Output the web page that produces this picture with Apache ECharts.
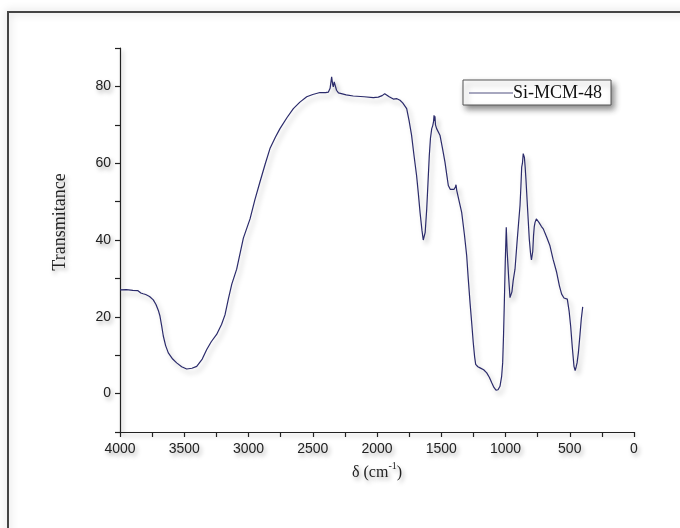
<!DOCTYPE html>
<html>
<head>
<meta charset="utf-8">
<script src="https://cdn.jsdelivr.net/npm/echarts@6/dist/echarts.min.js"></script>
<style>html,body{margin:0;padding:0;background:#fff;}#c{width:680px;height:528px;}</style>
</head>
<body>
<div id="c"></div>
<script>
// Wavenumber (cm^-1) and transmittance
const wavenumbers = [4000,3950,3900,3860,3850,3845,3838,3830,3820,3800,3770,3741,3720,3700,3689,3675,3663,3645,3624,3590,3559,3520,3481,3440,3403,3360,3325,3290,3248,3210,3183,3157,3130,3092,3040,2988,2950,2911,2870,2833,2790,2755,2700,2651,2600,2547,2500,2444,2400,2379,2365,2353,2345,2340,2333,2327,2315,2300,2288,2240,2185,2100,2029,1990,1960,1940,1925,1905,1890,1873,1860,1845,1821,1800,1769,1750,1731,1712,1692,1678,1665,1650,1640,1634,1625,1613,1603,1593,1584,1574,1566,1560,1556,1552,1549,1545,1536,1510,1490,1471,1455,1445,1430,1419,1400,1390,1385,1380,1375,1360,1341,1320,1302,1290,1276,1262,1251,1240,1232,1215,1198,1170,1146,1125,1107,1090,1074,1058,1043,1030,1022,1015,1009,1002,994,987,975,965,960,950,940,926,910,898,887,880,874,868,862,859,853,847,841,828,815,805,798,794,788,782,776,770,760,757,740,720,706,680,654,630,602,580,563,545,530,519,505,493,480,467,458,454,450,443,433,420,410,399];
const transmittance = [27.0,27.1,26.9,26.8,26.3,26.9,26.2,26.7,26.0,25.8,25.3,24.4,23.2,21.5,20.2,17.5,15.0,12.5,10.6,9.0,8.0,7.0,6.4,6.6,7.1,9.0,11.5,13.5,15.4,18.0,20.5,24.6,28.5,32.4,40.5,45.5,50.5,55.1,59.8,63.8,66.8,69.0,71.9,74.2,75.9,77.3,77.9,78.4,78.4,78.5,79.5,82.5,80.5,79.9,81.2,81.0,79.0,78.3,78.2,77.8,77.5,77.3,77.1,77.2,77.6,78.1,78.0,77.3,76.9,76.7,77.0,76.8,76.4,75.7,74.2,71.0,67.3,62.0,56.8,52.0,47.2,42.5,40.0,39.6,42.0,48.1,55.0,62.0,66.5,69.0,69.8,70.8,72.5,71.0,72.2,70.0,69.0,67.3,63.8,60.3,56.5,54.2,53.2,52.9,53.2,53.8,54.4,53.0,52.9,50.0,47.2,41.5,35.9,30.0,23.7,18.0,13.3,9.5,7.6,7.0,6.7,6.2,5.4,4.2,2.8,1.6,0.9,1.0,1.9,4.5,8.0,15.5,23.7,34.0,43.3,37.0,30.0,25.0,24.8,26.5,29.5,32.4,39.5,44.5,49.0,54.0,59.0,60.0,62.5,62.7,61.5,59.0,55.9,48.0,40.3,36.5,34.8,34.6,37.0,41.0,43.5,44.6,45.5,45.3,44.6,43.5,42.9,40.8,38.5,35.0,31.6,28.0,25.9,24.9,24.6,24.6,21.5,17.6,12.0,7.1,6.0,6.4,7.0,8.0,10.6,15.5,19.5,22.6];
const seriesName = 'Si-MCM-48';
const xTitle = '{a|δ (cm}{s|-1}{a|)}';
const yTitle = 'Transmitance';

const chart = echarts.init(document.getElementById('c'), null, {renderer: 'canvas'});
const data = wavenumbers.map((w, i) => [w, transmittance[i]]);
const shadowText = {textShadowColor: 'rgba(0,0,0,0.35)', textShadowBlur: 4, textShadowOffsetX: 2, textShadowOffsetY: 3};
const axisLineStyle = {color: '#222', width: 1.2, shadowColor: 'rgba(0,0,0,0.3)', shadowBlur: 4, shadowOffsetX: 2, shadowOffsetY: 3};

chart.setOption({
  backgroundColor: '#fff',
  animation: false,
  graphic: [{
    type: 'rect',
    shape: {x: 8, y: 12, width: 720, height: 580},
    style: {fill: 'none', stroke: '#444', lineWidth: 2, shadowColor: 'rgba(0,0,0,0.25)', shadowBlur: 8},
    silent: true, z: -1
  }, {
    type: 'text',
    x: 60, y: 222, rotation: Math.PI / 2,
    style: Object.assign({text: yTitle, fontFamily: 'Liberation Serif', fontSize: 18, fill: '#222', align: 'center', verticalAlign: 'middle',
      textShadowColor: 'rgba(0,0,0,0.35)', textShadowBlur: 4, textShadowOffsetX: 2, textShadowOffsetY: 3}),
    silent: true
  }],
  grid: {left: 120, right: 46, top: 48, bottom: 96},
  legend: {
    left: 463, top: 80,
    padding: [4, 9, 3, 6],
    itemWidth: 44, itemHeight: 1.5, itemGap: 0,
    icon: 'rect',
    borderColor: '#555', borderWidth: 1, backgroundColor: '#fff',
    shadowColor: 'rgba(0,0,0,0.45)', shadowBlur: 6, shadowOffsetX: 3, shadowOffsetY: 4,
    itemStyle: {color: '#8a8aaa'},
    textStyle: {fontFamily: 'Liberation Serif', fontSize: 18, color: '#111', padding: [0, 0, 0, -5]},
    data: [seriesName]
  },
  xAxis: {
    type: 'value', inverse: true, min: 0, max: 4000, interval: 250,
    axisLine: {show: true, onZero: false, lineStyle: axisLineStyle},
    axisTick: {show: true, inside: false, length: 5, lineStyle: {color: '#222', width: 1.2}},
    splitLine: {show: false},
    axisLabel: Object.assign({
      fontFamily: 'Liberation Sans', fontSize: 14, color: '#222', margin: 10,
      formatter: v => (v % 500 === 0 ? String(v) : '')
    }, shadowText),
    name: xTitle, nameLocation: 'middle', nameGap: 28,
    nameTextStyle: {
      rich: {
        a: Object.assign({fontFamily: 'Liberation Serif', fontSize: 16, color: '#222', lineHeight: 20, verticalAlign: 'bottom'}, shadowText),
        s: Object.assign({fontFamily: 'Liberation Serif', fontSize: 10, color: '#222', lineHeight: 20, verticalAlign: 'top', padding: [0, 0, 9, 0]}, shadowText)
      }
    }
  },
  yAxis: {
    type: 'value', min: -10, max: 90, interval: 10,
    axisLine: {show: true, onZero: false, lineStyle: axisLineStyle},
    axisTick: {show: true, inside: false, length: 5, lineStyle: {color: '#222', width: 1.2}},
    splitLine: {show: false},
    axisLabel: Object.assign({
      fontFamily: 'Liberation Sans', fontSize: 14, color: '#222', margin: 9,
      formatter: v => (v % 20 === 0 ? String(v) : '')
    }, shadowText)
  },
  series: [{
    name: seriesName, type: 'line', data: data,
    showSymbol: false, symbol: 'none', smooth: false,
    lineStyle: {color: '#2b2b6b', width: 1.2, shadowColor: 'rgba(0,0,0,0.28)', shadowBlur: 5, shadowOffsetX: 3, shadowOffsetY: 4},
    itemStyle: {color: '#2b2b6b'}
  }]
});
</script>
</body>
</html>
